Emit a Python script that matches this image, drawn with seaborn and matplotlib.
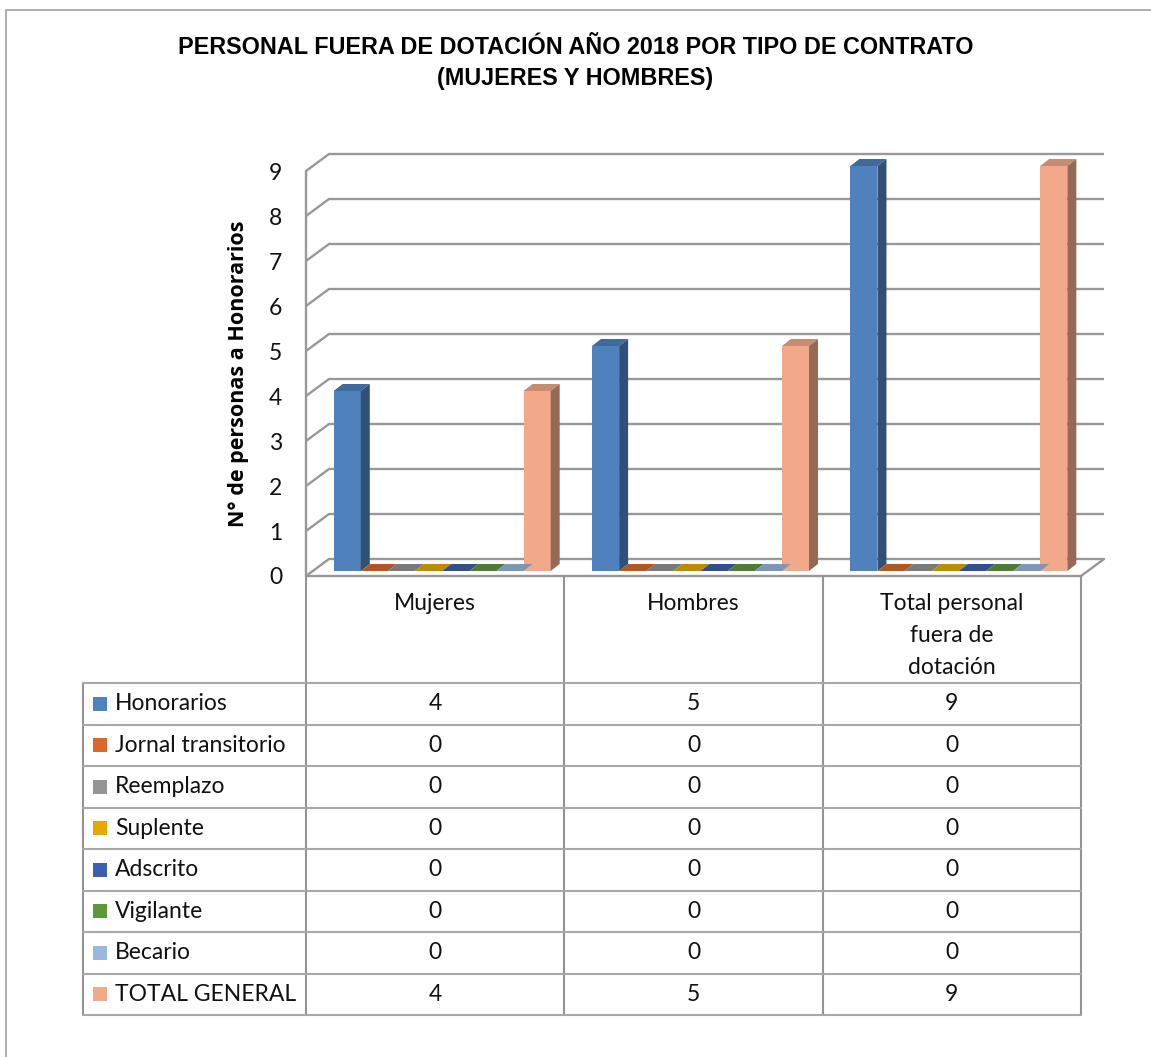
import numpy as np
import pandas as pd
import seaborn as sns
import matplotlib.pyplot as plt
from matplotlib.patches import Polygon, Rectangle
from matplotlib import font_manager

# data
grupos = ['Mujeres', 'Hombres', 'Total personal\nfuera de\ndotación']
tipos = ['Honorarios', 'Jornal transitorio', 'Reemplazo', 'Suplente',
         'Adscrito', 'Vigilante', 'Becario', 'TOTAL GENERAL']
honorarios = [4, 5, 9]
jornal = [0, 0, 0]
reemplazo = [0, 0, 0]
suplente = [0, 0, 0]
adscrito = [0, 0, 0]
vigilante = [0, 0, 0]
becario = [0, 0, 0]
total_general = [4, 5, 9]
colores = ['#4F81BD', '#D9692B', '#959595', '#E5A900',
           '#3C61AA', '#5E983D', '#98B8E0', '#F2A98A']

series = [honorarios, jornal, reemplazo, suplente, adscrito, vigilante, becario, total_general]
rows = []
for t, vals in zip(tipos, series):
    for g, v in zip(grupos, vals):
        rows.append({'grupo': g, 'tipo': t, 'valor': v})
df = pd.DataFrame(rows)

sns.set_style('white')
fams = {f.name for f in font_manager.fontManager.ttflist}
title_font = 'Liberation Sans Narrow' if 'Liberation Sans Narrow' in fams else 'Liberation Sans'
title_size = 19 if title_font == 'Liberation Sans Narrow' else 16.8
plt.rcParams['font.family'] = ['Lato', 'DejaVu Sans']
fs = 16.5
tc = '#111111'

W, H = 1151, 1057
fig = plt.figure(figsize=(W / 100, H / 100), dpi=100)

# front plane of the 3d box
x0p, x1p, y0p, y9p = 306, 1081, 576, 171
ax = fig.add_axes([x0p / W, 1 - y0p / H, (x1p - x0p) / W, (y0p - y9p) / H])
ax.set_xlim(-0.5, 2.5)
ax.set_ylim(0, 9)
ux = 3 / (x1p - x0p)   # data per px
uy = 9 / (y0p - y9p)

# bar plane, slightly behind front plane
sx, sy = 7, 5
axb = fig.add_axes([(x0p + sx) / W, 1 - (y0p - sy) / H, (x1p - x0p) / W, (y0p - y9p) / H])
axb.set_zorder(ax.get_zorder() + 1)
axb.patch.set_visible(False)

sns.barplot(data=df, x='grupo', y='valor', hue='tipo', order=grupos, hue_order=tipos,
            palette=colores, width=0.84, gap=0, dodge=True, legend=False,
            saturation=1, linewidth=0, ax=axb)
axb.set_xlim(-0.5, 2.5)
axb.set_ylim(0, 9)
axb.axis('off')

# 3d faces for bars
ddx, ddy = 9 * ux, 7 * uy
def shade(c, f):
    c = np.array(plt.matplotlib.colors.to_rgb(c))
    return tuple(c * f)
for p in list(axb.patches):
    bx, by = p.get_x(), p.get_y()
    bw, bh = p.get_width(), p.get_height()
    fc = p.get_facecolor()
    top = Polygon([(bx, by + bh), (bx + bw, by + bh), (bx + bw + ddx, by + bh + ddy),
                   (bx + ddx, by + bh + ddy)], closed=True, facecolor=shade(fc, 0.82),
                  edgecolor='none', clip_on=False)
    axb.add_patch(top)
    if bh > 0:
        side = Polygon([(bx + bw, by), (bx + bw + ddx, by + ddy), (bx + bw + ddx, by + bh + ddy),
                        (bx + bw, by + bh)], closed=True, facecolor=shade(fc, 0.62),
                       edgecolor='none', clip_on=False)
        axb.add_patch(side)

# walls / gridlines
DX, DY = 23 * ux, 17 * uy
gcol = '#989898'
for v in range(10):
    ax.plot([-0.5, -0.5 + DX, 2.5 + DX], [v, v + DY, v + DY], color=gcol, lw=1.7,
            clip_on=False, zorder=1, solid_capstyle='butt')
ax.plot([-0.5, -0.5], [0, 9], color=gcol, lw=1.7, clip_on=False, zorder=2)
ax.plot([-0.5, 2.5, 2.5 + DX], [0, 0, DY], color=gcol, lw=1.7, clip_on=False, zorder=2)
for s in ax.spines.values():
    s.set_visible(False)
ax.set_xticks([])
ax.set_yticks(range(10))
ax.tick_params(axis='y', length=0, pad=17, labelsize=fs, labelcolor=tc)
ax.set_ylabel('N° de personas a Honorarios', fontsize=15.5, fontweight='bold', color='black',
              family=['Open Sans', 'DejaVu Sans'])
ax.yaxis.set_label_coords(-0.074, 0.5)
ax.set_xlabel('')

# data table
row_h = 41.5
head_h = 107
tab_left = -0.5 - 223 * ux
tab_bottom = y0p + head_h + row_h * len(tipos)
axt = fig.add_axes([83 / W, 1 - tab_bottom / H, (x1p - 83) / W, (tab_bottom - y0p) / H])
axt.set_xlim(tab_left, 2.5)
axt.set_ylim(tab_bottom - y0p, 0)
axt.axis('off')
lc = '#A8A8A8'
vc = '#939393'
for xv in [-0.5, 0.5, 1.5, 2.5]:
    axt.plot([xv, xv], [0, tab_bottom - y0p], color=vc, lw=1.5, clip_on=False)
axt.plot([tab_left, tab_left], [head_h, tab_bottom - y0p], color=vc, lw=1.5, clip_on=False)
for k in range(len(tipos) + 1):
    yy = head_h + k * row_h
    axt.plot([tab_left, 2.5], [yy, yy], color=lc, lw=1.5, clip_on=False)
for i, g in enumerate(grupos):
    for j, line in enumerate(g.split('\n')):
        axt.text(i, 27 + j * 32.5, line, ha='center', va='center', fontsize=fs, color=tc)
for k, (t, vals, c) in enumerate(zip(tipos, series, colores)):
    yc = head_h + (k + 0.5) * row_h
    axt.add_patch(Rectangle((tab_left + 10 * ux, yc - 7), 14 * ux, 14, facecolor=c,
                            edgecolor='none'))
    axt.text(tab_left + 32 * ux, yc, t, ha='left', va='center', fontsize=fs, color=tc)
    for i, v in enumerate(vals):
        axt.text(i, yc, str(v), ha='center', va='center', fontsize=fs, color=tc)

# title
fig.text(0.5, 1 - 47 / H, 'PERSONAL FUERA DE DOTACIÓN AÑO 2018 POR TIPO DE CONTRATO',
         ha='center', va='center', fontsize=title_size, fontweight='bold', family=title_font,
         color='black')
fig.text(0.5, 1 - 79 / H, '(MUJERES Y HOMBRES)',
         ha='center', va='center', fontsize=title_size, fontweight='bold', family=title_font,
         color='black')

# chart border
fig.add_artist(plt.Line2D([6 / W, 6 / W, 1], [0, 1 - 10 / H, 1 - 10 / H], color='#A0A0A0', lw=1.2))

fig.savefig('out.png', dpi=100, facecolor='white')
